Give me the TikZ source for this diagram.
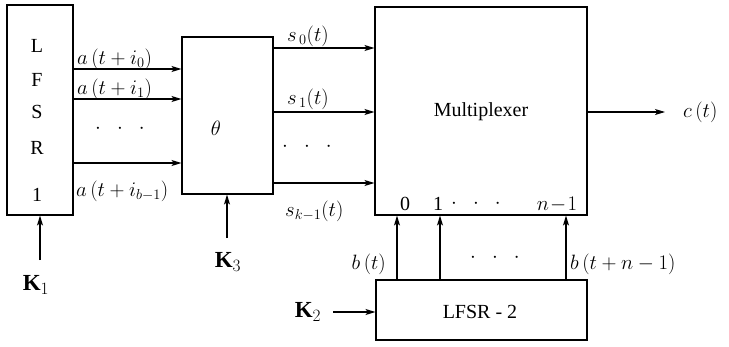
\documentclass[tikz,border=0pt]{standalone}
\usepackage{fontspec}
\setmainfont{Liberation Serif}
\usetikzlibrary{arrows.meta,calc}
\begin{document}
\begin{tikzpicture}[x=1pt,y=-1pt,
  box/.style={draw,line width=1.1pt,inner sep=0pt},
  arr/.style={line width=1.1pt,-{Stealth[length=10pt,width=6pt,inset=2.5pt]}},
  lbl/.style={font=\fontsize{21}{23}\selectfont,inner sep=0pt},
  big/.style={font=\fontsize{20}{22}\selectfont,inner sep=0pt},
  key/.style={font=\fontsize{23}{25}\selectfont,inner sep=0pt}]
\useasboundingbox (0,0) rectangle (729,346);
% boxes
\node[box,minimum width=66pt,minimum height=210pt] (l1) at (40,110) {};
\node[box,minimum width=91pt,minimum height=157pt] (th) at (227.5,115.5) {};
\node[box,minimum width=212pt,minimum height=208pt] (mux) at (481,111) {};
\node[box,minimum width=211pt,minimum height=60pt] (l2) at (481.5,310) {};
% texts in boxes
\node[big] (tL) at (37,46) {L};
\node[big] (tF) at (37,80) {F};
\node[big] (tS) at (37,112) {S};
\node[big] (tR) at (37,148) {R};
\node[big] (t1) at (37,195) {1};
\node[lbl] (tth) at (216,128) {$\theta$};
\node[big] (tmux) at (481,112) {Multiplexer};
\node[big] (tl2) at (480,312) {LFSR - 2};
\node[big,anchor=base] (m0) at (405,210) {0};
\node[big,anchor=base] (m1) at (438,210) {1};
\node[big] (md) at (476,204) {$\cdot\;\;\cdot\;\;\cdot$};
\node[lbl,anchor=base] (mn) at (557,210) {$n\!-\!1$};
% y-level coordinates
\coordinate (ya0) at (0,69);
\coordinate (ya1) at (0,99);
\coordinate (ya2) at (0,163);
\coordinate (ys0) at (0,48);
\coordinate (ys1) at (0,112);
\coordinate (ys2) at (0,183);
\coordinate (xb0) at (397,0);
\coordinate (xb1) at (440,0);
\coordinate (xb2) at (566,0);
% LFSR1 -> theta
\draw[arr] (l1.east |- ya0) -- (th.west |- ya0);
\draw[arr] (l1.east |- ya1) -- (th.west |- ya1);
\draw[arr] (l1.east |- ya2) -- (th.west |- ya2);
\node[lbl,anchor=base west] (la0) at (77,64) {$a\,(t+i_0)$};
\node[lbl,anchor=base west] (la1) at (77,94) {$a\,(t+i_1)$};
\node[lbl] (lad) at (120,129) {$\cdot\;\;\cdot\;\;\cdot$};
\node[lbl,anchor=base west] (la2) at (76,196) {$a\,(t+i_{b-1})$};
% theta -> mux
\draw[arr] (th.east |- ys0) -- (mux.west |- ys0);
\draw[arr] (th.east |- ys1) -- (mux.west |- ys1);
\draw[arr] (th.east |- ys2) -- (mux.west |- ys2);
\node[lbl,anchor=base west] (ls0) at (287,41) {$s_{\,0}(t)$};
\node[lbl,anchor=base west] (ls1) at (287,104) {$s_{\,1}(t)$};
\node[lbl] (lsd) at (307,147) {$\cdot\;\;\cdot\;\;\cdot$};
\node[lbl,anchor=base west] (ls2) at (285,216) {$s_{k-1}(t)$};
% keys
\node[key] (k1) at (36,285) {$\mathbf{K}_1$};
\node[key] (k3) at (228,262) {$\mathbf{K}_3$};
\node[key] (k2) at (308,312) {$\mathbf{K}_2$};
\coordinate (k1s) at (40,260);
\draw[arr] (k1s) -- (k1s |- l1.south);
\coordinate (k3s) at (227,238);
\draw[arr] (k3s) -- (k3s |- th.south);
\coordinate (k2s) at (333,312);
\draw[arr] (k2s) -- (k2s -| l2.west);
% LFSR2 -> mux
\draw[arr] (xb0 |- l2.north) -- (xb0 |- mux.south);
\draw[arr] (xb1 |- l2.north) -- (xb1 |- mux.south);
\draw[arr] (xb2 |- l2.north) -- (xb2 |- mux.south);
\node[lbl,anchor=base east] (lb0) at (386,269) {$b\,(t)$};
\node[lbl] (lbd) at (495,258) {$\cdot\;\;\cdot\;\;\cdot$};
\node[lbl,anchor=base west] (lb2) at (570,269) {$b\,(t+n-1)$};
% output
\coordinate (cout) at (665,112);
\draw[arr] (mux.east |- cout) -- (cout);
\node[lbl,anchor=west] (lc) at (683,112) {$c\,(t)$};
\end{tikzpicture}
\end{document}
